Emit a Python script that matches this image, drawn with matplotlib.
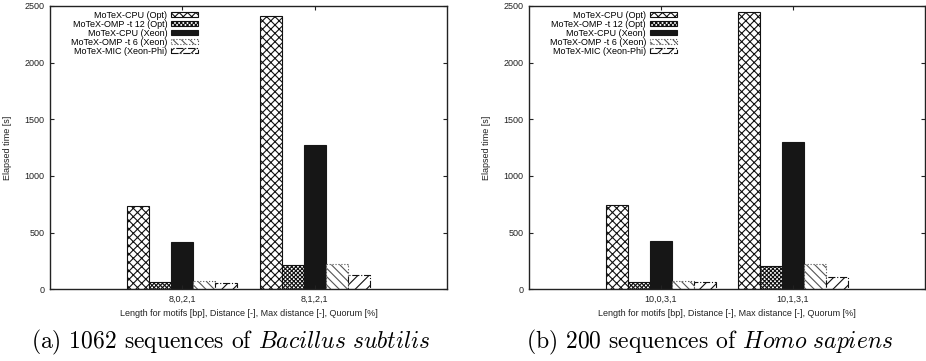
import numpy as np
import matplotlib
matplotlib.use('Agg')
import matplotlib.pyplot as plt

plt.rcParams['font.family'] = ['Liberation Sans', 'DejaVu Sans']
plt.rcParams['mathtext.fontset'] = 'cm'
plt.rcParams['hatch.linewidth'] = 0.8

series = ['MoTeX-CPU (Opt)', 'MoTeX-OMP -t 12 (Opt)', 'MoTeX-CPU (Xeon)',
          'MoTeX-OMP -t 6 (Xeon)', 'MoTeX-MIC (Xeon-Phi)']

cats_a = ['8,0,2,1', '8,1,2,1']
vals_a = [[735, 2410], [62, 212], [417, 1272], [73, 226], [58, 123]]

cats_b = ['10,0,3,1', '10,1,3,1']
vals_b = [[746, 2448], [62, 205], [423, 1299], [73, 220], [62, 108]]

captions = [r'(a) 1062 sequences of $\mathit{Bacillus\ subtilis}$',
            r'(b) 200 sequences of $\mathit{Homo\ sapiens}$']

#막대 스타일 (gnuplot 패턴 흉내)
styles = [
    dict(facecolor='white', hatch='xxxx', edgecolor='#111111', linestyle='-'),
    dict(facecolor='white', hatch='xxxxxxxx', edgecolor='#111111', linestyle='-'),
    dict(facecolor='#161616', hatch=None, edgecolor='#161616', linestyle='-'),
    dict(facecolor='white', hatch='\\\\\\\\', edgecolor='#555555', linestyle=':'),
    dict(facecolor='white', hatch='///', edgecolor='#111111', linestyle='-.'),
]

fig = plt.figure(figsize=(9.26, 3.61), dpi=100)
ax_a = fig.add_axes([0.054, 0.1986, 0.4287, 0.7848])
ax_b = fig.add_axes([0.571, 0.1986, 0.4280, 0.7848])

w = 1.0 / 6
for ax, cats, vals in [(ax_a, cats_a, vals_a), (ax_b, cats_b, vals_b)]:
    x = np.arange(len(cats))
    for i, (name, v) in enumerate(zip(series, vals)):
        st = styles[i]
        ax.bar(x + (i - 2) * w, v, width=w, label=name, facecolor=st['facecolor'],
               hatch=st['hatch'], edgecolor=st['edgecolor'], linestyle=st['linestyle'],
               linewidth=0.8)
    ax.set_xlim(-1, 2)
    ax.set_ylim(0, 2500)
    ax.set_xticks(x)
    ax.set_xticklabels(cats)
    ax.set_yticks([0, 500, 1000, 1500, 2000, 2500])
    ax.tick_params(direction='in', length=3, width=0.8, labelsize=6.5, top=True, right=True,
                   pad=4, colors='#222222')
    for s in ax.spines.values():
        s.set_linewidth(1.0)
        s.set_color('#222222')
    ax.set_xlabel('Length for motifs [bp], Distance [-], Max distance [-], Quorum [%]',
                  fontsize=6.5, labelpad=4, color='#222222')
    ax.set_ylabel('Elapsed time [s]', fontsize=6.5, color='#222222')
    ax.yaxis.set_label_coords(-0.096, 0.5)
    ax.legend(loc='upper left', bbox_to_anchor=(0.04, 1.0), frameon=False, fontsize=6.5,
              markerfirst=False, handlelength=3.0, handleheight=0.5,
              labelspacing=0.0, handletextpad=0.4, borderaxespad=0.15)

#캡션
fig.text(231 / 926, 1 - 348 / 361, captions[0], fontsize=17, ha='center', va='baseline',
         family='cmr10')
fig.text(710 / 926, 1 - 348 / 361, captions[1], fontsize=17, ha='center', va='baseline',
         family='cmr10')

fig.savefig('out.png', dpi=100)
